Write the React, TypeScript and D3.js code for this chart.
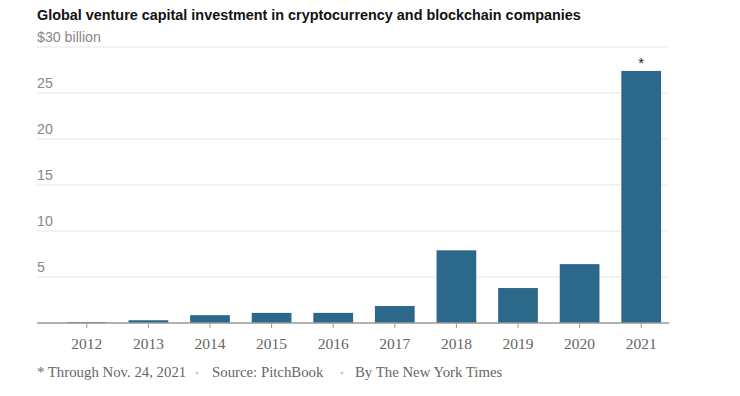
import * as d3 from 'd3';
import { useEffect, useRef } from 'react';

const years = ['2012', '2013', '2014', '2015', '2016', '2017', '2018', '2019', '2020', '2021'];
const investment = [0.1, 0.3, 0.85, 1.1, 1.1, 1.85, 7.9, 3.8, 6.4, 27.4];
const yTicks = [5, 10, 15, 20, 25, 30];

const App = () => {
  const ref = useRef<SVGSVGElement>(null);

  useEffect(() => {
    const svg = d3.select(ref.current);
    svg.selectAll('*').remove();

    const sans = "'Liberation Sans', Arial, sans-serif";
    const serif = "'Liberation Serif', 'Times New Roman', serif";

    const x = d3.scaleBand().domain(years).range([56, 672]).paddingInner(0.355).paddingOuter(0.1775);
    const y = d3.scaleLinear().domain([0, 30]).range([323, 47]);

    svg.append('text')
      .attr('x', 37).attr('y', 20)
      .attr('font-family', sans).attr('font-weight', 'bold').attr('font-size', 14.4)
      .attr('fill', '#121212')
      .text('Global venture capital investment in cryptocurrency and blockchain companies');

    // gridlines
    svg.append('g').selectAll('line')
      .data(yTicks)
      .enter()
      .append('line')
      .attr('x1', 37).attr('x2', 668)
      .attr('y1', d => y(d)).attr('y2', d => y(d))
      .attr('stroke', '#e6e6e6').attr('stroke-width', 1);

    svg.append('g').selectAll('text')
      .data(yTicks)
      .enter()
      .append('text')
      .attr('x', 37).attr('y', d => y(d) - 5)
      .attr('font-family', sans).attr('font-size', 14.2)
      .attr('fill', '#888')
      .text(d => (d === 30 ? '$30 billion' : String(d)));

    svg.append('g').selectAll('rect')
      .data(investment)
      .enter()
      .append('rect')
      .attr('x', (_, i) => x(years[i])!)
      .attr('y', d => y(d))
      .attr('width', x.bandwidth())
      .attr('height', d => y(0) - y(d))
      .attr('fill', '#2c6889');

    svg.append('text')
      .attr('x', x('2021')! + x.bandwidth() / 2)
      .attr('y', y(investment[9]) - 3)
      .attr('text-anchor', 'middle')
      .attr('font-family', sans).attr('font-size', 15)
      .attr('fill', '#222')
      .text('*');

    // x axis
    const axis = svg.append('g');
    axis.append('line')
      .attr('x1', 37).attr('x2', 669)
      .attr('y1', y(0)).attr('y2', y(0))
      .attr('stroke', '#999').attr('stroke-width', 1.5);
    axis.selectAll('line.tick')
      .data(years)
      .enter()
      .append('line')
      .attr('class', 'tick')
      .attr('x1', d => x(d)! + x.bandwidth() / 2)
      .attr('x2', d => x(d)! + x.bandwidth() / 2)
      .attr('y1', y(0)).attr('y2', y(0) + 5)
      .attr('stroke', '#999');
    axis.selectAll('text')
      .data(years)
      .enter()
      .append('text')
      .attr('x', d => x(d)! + x.bandwidth() / 2)
      .attr('y', 349)
      .attr('text-anchor', 'middle')
      .attr('font-family', serif).attr('font-size', 15.5)
      .attr('fill', '#666')
      .text(d => d);

    // footer
    const footer = svg.append('g').attr('font-family', serif).attr('font-size', 14.8).attr('fill', '#666');
    footer.append('text').attr('x', 37).attr('y', 377).text('* Through Nov. 24, 2021');
    footer.append('circle').attr('cx', 197).attr('cy', 373).attr('r', 1.5).attr('fill', '#ccc');
    footer.append('text').attr('x', 212).attr('y', 377).text('Source: PitchBook');
    footer.append('circle').attr('cx', 342).attr('cy', 373).attr('r', 1.5).attr('fill', '#ccc');
    footer.append('text').attr('x', 355).attr('y', 377).text('By The New York Times');
  }, []);

  return (
    <svg
      ref={ref}
      width={740}
      height={396}
      style={{ position: 'absolute', left: 0, top: 0, background: '#fff' }}
    />
  );
};

export default App;
